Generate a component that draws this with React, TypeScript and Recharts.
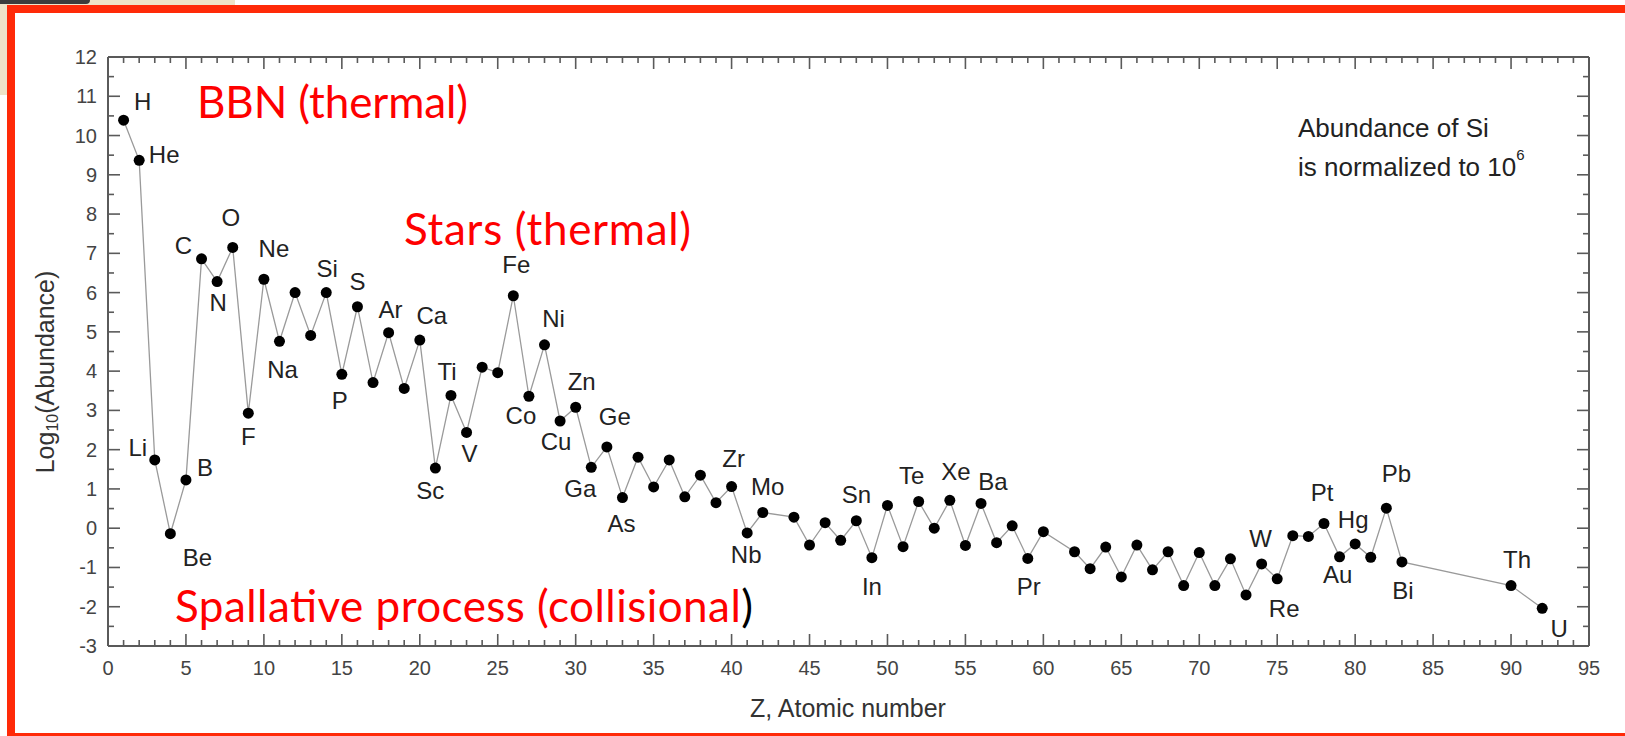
import { LineChart, Line, XAxis, YAxis } from 'recharts'

// Solar system abundances, log10 scale, Si normalized to 10^6
const atomicNumbers = [
  1, 2, 3, 4, 5, 6, 7, 8, 9, 10, 11, 12, 13, 14, 15, 16, 17, 18, 19, 20,
  21, 22, 23, 24, 25, 26, 27, 28, 29, 30, 31, 32, 33, 34, 35, 36, 37, 38, 39, 40,
  41, 42, 44, 45, 46, 47, 48, 49, 50, 51, 52, 53, 54, 55, 56, 57, 58, 59, 60,
  62, 63, 64, 65, 66, 67, 68, 69, 70, 71, 72, 73, 74, 75, 76, 77, 78, 79, 80, 81, 82, 83,
  90, 92,
]

const symbols = [
  'H', 'He', 'Li', 'Be', 'B', 'C', 'N', 'O', 'F', 'Ne', 'Na', 'Mg', 'Al', 'Si', 'P', 'S', 'Cl', 'Ar', 'K', 'Ca',
  'Sc', 'Ti', 'V', 'Cr', 'Mn', 'Fe', 'Co', 'Ni', 'Cu', 'Zn', 'Ga', 'Ge', 'As', 'Se', 'Br', 'Kr', 'Rb', 'Sr', 'Y', 'Zr',
  'Nb', 'Mo', 'Ru', 'Rh', 'Pd', 'Ag', 'Cd', 'In', 'Sn', 'Sb', 'Te', 'I', 'Xe', 'Cs', 'Ba', 'La', 'Ce', 'Pr', 'Nd',
  'Sm', 'Eu', 'Gd', 'Tb', 'Dy', 'Ho', 'Er', 'Tm', 'Yb', 'Lu', 'Hf', 'Ta', 'W', 'Re', 'Os', 'Ir', 'Pt', 'Au', 'Hg', 'Tl', 'Pb', 'Bi',
  'Th', 'U',
]

const logAbundance = [
  10.39, 9.37, 1.74, -0.14, 1.23, 6.86, 6.28, 7.15, 2.93, 6.34, 4.76, 6.0, 4.91, 6.0, 3.92, 5.64, 3.71, 4.98, 3.56, 4.79,
  1.53, 3.38, 2.44, 4.1, 3.96, 5.92, 3.36, 4.67, 2.73, 3.08, 1.55, 2.07, 0.78, 1.81, 1.05, 1.74, 0.8, 1.35, 0.65, 1.06,
  -0.12, 0.4, 0.28, -0.43, 0.14, -0.31, 0.19, -0.75, 0.58, -0.47, 0.68, 0.0, 0.71, -0.44, 0.63, -0.37, 0.06, -0.77, -0.09,
  -0.6, -1.03, -0.48, -1.24, -0.43, -1.06, -0.6, -1.46, -0.62, -1.46, -0.78, -1.7, -0.91, -1.29, -0.19, -0.21, 0.12, -0.73, -0.4, -0.74, 0.51, -0.86,
  -1.46, -2.04,
]

const xTicks = Array.from({ length: 96 }, (_, i) => i)
const yTicks = Array.from({ length: 31 }, (_, i) => -3 + i * 0.5)

// where each printed element name sits relative to its dot (px)
const labelOffset: Record<string, [number, number]> = {
  H: [19, -19], He: [25, -6], Li: [-17, -12], Be: [27, 24], B: [19, -12], C: [-18, -13], N: [1, 21], O: [-2, -30],
  F: [0, 23], Ne: [10, -31], Na: [3, 28], Si: [1, -24], S: [0, -25], P: [-2, 26], Ar: [2, -23], Ca: [12, -25],
  Sc: [-5, 22], Ti: [-4, -24], V: [3, 21], Fe: [3, -31], Co: [-8, 19], Ni: [9, -26], Cu: [-4, 20], Zn: [6, -26],
  Ga: [-11, 21], Ge: [8, -30], As: [-1, 26], Zr: [2, -28], Nb: [-1, 22], Mo: [5, -26], Sn: [-31, -11], In: [0, 29],
  Te: [-7, -26], Xe: [6, -29], Ba: [12, -22], Pr: [1, 28], W: [-1, -25], Re: [7, 30], Pt: [-2, -31], Au: [-2, 18],
  Hg: [-2, -24], Pb: [10, -35], Bi: [1, 29], Th: [6, -26], U: [17, 20],
}

const data = atomicNumbers.map((z, i) => ({ z, y: logAbundance[i], symbol: symbols[i] }))

const FONT = '"Liberation Sans", Arial, sans-serif'
const AXIS = '#5a5a5a'
const RED = '#fe0000'

const BottomTick = (props: any) => {
  const { x, y, payload } = props
  const major = payload.value % 5 === 0
  return (
    <g>
      <line x1={x} x2={x} y1={y} y2={y - (major ? 12 : 6)} stroke={AXIS} strokeWidth={1.6} />
      {major && (
        <text x={x} y={y + 22} textAnchor="middle" dominantBaseline="central" fontSize={20} fill="#444" fontFamily={FONT}>
          {payload.value}
        </text>
      )}
    </g>
  )
}

const TopTick = (props: any) => {
  const { x, y, payload } = props
  const major = payload.value % 5 === 0
  return <line x1={x} x2={x} y1={y} y2={y + (major ? 12 : 6)} stroke={AXIS} strokeWidth={1.6} />
}

const LeftTick = (props: any) => {
  const { x, y, payload } = props
  const major = Number.isInteger(payload.value)
  return (
    <g>
      <line x1={x} x2={x + (major ? 12 : 6)} y1={y} y2={y} stroke={AXIS} strokeWidth={1.6} />
      {major && (
        <text x={x - 11} y={y} textAnchor="end" dominantBaseline="central" fontSize={20} fill="#444" fontFamily={FONT}>
          {payload.value}
        </text>
      )}
    </g>
  )
}

const RightTick = (props: any) => {
  const { x, y, payload } = props
  const major = Number.isInteger(payload.value)
  return <line x1={x} x2={x - (major ? 12 : 6)} y1={y} y2={y} stroke={AXIS} strokeWidth={1.6} />
}

const renderLabel = (props: any) => {
  const { x, y, index } = props
  const sym = data[index]?.symbol
  const off = sym ? labelOffset[sym] : undefined
  if (!off) return <g key={`l${index}`} />
  return (
    <text
      key={`l${index}`}
      x={x + off[0]}
      y={y + off[1]}
      textAnchor="middle"
      dominantBaseline="central"
      fontSize={24}
      fill="#222"
      fontFamily={FONT}
    >
      {sym}
    </text>
  )
}

export default function App() {
  return (
    <div style={{ position: 'absolute', left: 0, top: 0, width: 1625, height: 736, overflow: 'hidden', background: '#fff' }}>
      {/* slide background peeking out at the corner */}
      <div style={{ position: 'absolute', left: 0, top: 0, width: 235, height: 6, background: '#eee3c8' }} />
      <div style={{ position: 'absolute', left: 0, top: 0, width: 8, height: 95, background: '#eee3c8' }} />
      <div style={{ position: 'absolute', left: 0, top: 0, width: 90, height: 4, background: '#3c3c3c', borderBottomRightRadius: 8 }} />
      <div
        style={{
          position: 'absolute',
          left: 7,
          top: 5,
          width: 1660,
          height: 736,
          boxSizing: 'border-box',
          border: '8px solid #ff2a08',
          background: '#fff',
        }}
      />
      <div style={{ position: 'absolute', left: 0, top: 0 }}>
        <LineChart width={1625} height={736} data={data} margin={{ top: 56, right: 35, bottom: 89, left: 107 }}>
          <XAxis
            dataKey="z"
            type="number"
            domain={[0, 95]}
            ticks={xTicks}
            interval={0}
            height={1}
            tickSize={0}
            tickMargin={0}
            tickLine={false}
            axisLine={{ stroke: AXIS, strokeWidth: 2 }}
            tick={<BottomTick />}
          />
          <XAxis
            xAxisId="top"
            orientation="top"
            dataKey="z"
            type="number"
            domain={[0, 95]}
            ticks={xTicks}
            interval={0}
            height={1}
            tickSize={0}
            tickMargin={0}
            tickLine={false}
            axisLine={{ stroke: AXIS, strokeWidth: 2 }}
            tick={<TopTick />}
          />
          <YAxis
            type="number"
            domain={[-3, 12]}
            ticks={yTicks}
            interval={0}
            width={1}
            tickSize={0}
            tickMargin={0}
            tickLine={false}
            axisLine={{ stroke: AXIS, strokeWidth: 2 }}
            tick={<LeftTick />}
          />
          <YAxis
            yAxisId="right"
            orientation="right"
            type="number"
            domain={[-3, 12]}
            ticks={yTicks}
            interval={0}
            width={1}
            tickSize={0}
            tickMargin={0}
            tickLine={false}
            axisLine={{ stroke: AXIS, strokeWidth: 2 }}
            tick={<RightTick />}
          />
          <Line
            xAxisId="top"
            yAxisId="right"
            dataKey="y"
            stroke="none"
            dot={false}
            activeDot={false}
            isAnimationActive={false}
          />
          <Line
            dataKey="y"
            stroke="#9a9a9a"
            strokeWidth={1.3}
            dot={{ r: 5.5, fill: '#000', stroke: '#000', strokeWidth: 0 }}
            activeDot={false}
            label={renderLabel}
            isAnimationActive={false}
          />
        </LineChart>
      </div>
      <svg width={1625} height={736} style={{ position: 'absolute', left: 0, top: 0, pointerEvents: 'none' }}>
        <g fontFamily="Lato, sans-serif" fontSize={44} fill={RED}>
          <text x={197} y={118} textLength={271}>BBN (thermal)</text>
          <text x={404} y={245} textLength={287}>Stars (thermal)</text>
          <text x={175} y={622} textLength={578}>
            Spallative process (collisional<tspan fill="#000">)</tspan>
          </text>
        </g>
        <g fontFamily={FONT} fontSize={26} fill="#222">
          <text x={1298} y={128} dominantBaseline="central">Abundance of Si</text>
          <text x={1298} y={167} dominantBaseline="central">
            is normalized to 10<tspan fontSize={15} dy={-13}>6</tspan>
          </text>
        </g>
        <text x={848} y={708} textAnchor="middle" dominantBaseline="central" fontFamily={FONT} fontSize={25} fill="#333">
          Z, Atomic number
        </text>
        <text
          x={45}
          y={372}
          transform="rotate(-90, 45, 372)"
          textAnchor="middle"
          dominantBaseline="central"
          fontFamily={FONT}
          fontSize={25}
          fill="#333"
        >
          Log<tspan fontSize={16} dy={7}>10</tspan>
          <tspan dy={-7}>(Abundance)</tspan>
        </text>
      </svg>
    </div>
  )
}
